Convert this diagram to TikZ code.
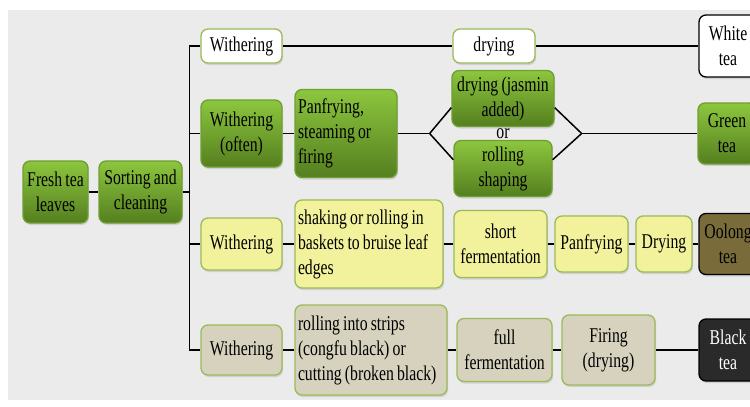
\documentclass[tikz,border=0pt]{standalone}
\usepackage{fontspec}
\setmainfont{Liberation Serif}[FakeStretch=0.75, WordSpace=0.8]
\usepackage{tikz}
\usetikzlibrary{shapes.geometric, arrows, calc, shadows}
\definecolor{bgcolor}{HTML}{EBEBEB}
\definecolor{leaflight}{HTML}{8CC63E}
\definecolor{leafdark}{HTML}{557F1F}
\definecolor{leafedge}{HTML}{9BBB59}
\definecolor{oolongyellow}{HTML}{F2F29C}
\definecolor{blackgray}{HTML}{D6D2BE}
\definecolor{oolongcolor}{HTML}{7A6C3A}
\definecolor{blackcolor}{HTML}{2A2A2A}
\tikzstyle{stage} = [rectangle, rounded corners=7pt, draw=leafedge, line width=1.3pt, align=center, inner sep=3pt, font=\fontsize{21}{25}\selectfont, drop shadow={opacity=0.25, shadow xshift=1pt, shadow yshift=-2pt}]
\tikzstyle{greenstage} = [stage, top color=leaflight, bottom color=leafdark, draw=leaflight!80!black]
\tikzstyle{whitestage} = [stage, fill=white]
\tikzstyle{yellowstage} = [stage, fill=oolongyellow]
\tikzstyle{graystage} = [stage, fill=blackgray]
\tikzstyle{wither} = [minimum width=81pt]
\tikzstyle{product} = [stage, draw=black, minimum width=58pt, minimum height=62pt]
\tikzstyle{link} = [line width=1.5pt, black]

\begin{document}
\begin{tikzpicture}
        \useasboundingbox (0,0) rectangle (750pt,-407pt);
        \fill [bgcolor] (8pt,-10pt) rectangle (750pt,-400pt);

        \node (fresh) [greenstage, minimum width=65pt, minimum height=62pt]
            at (55.5pt,-192pt) {Fresh tea\\leaves};
        \node (sort)
            [greenstage, right of=fresh, node distance=85pt,
             minimum width=83pt, minimum height=62pt]
            {Sorting and\\cleaning};

        % the four withering stages, one under the other
        \node (wwhite) [whitestage, wither, minimum height=34pt]
            at (241.5pt,-46pt) {Withering};
        \node (wgreen)
            [greenstage, wither, below of=wwhite, node distance=87.5pt,
             minimum height=67pt]
            {Withering\\(often)};
        \node (wyellow)
            [yellowstage, wither, below of=wgreen, node distance=110.5pt,
             minimum height=52pt]
            {Withering};
        \node (wgray)
            [graystage, wither, below of=wyellow, node distance=106pt,
             minimum height=50pt]
            {Withering};

        % white tea
        \node (drywhite)
            [whitestage, right of=wwhite, node distance=252.5pt,
             minimum width=82pt, minimum height=34pt]
            {drying};
        \node (whitetea)
            [product, fill=white, right of=drywhite, node distance=234pt]
            {White\\tea};

        % green tea
        \node (panfire)
            [greenstage, right of=wgreen, node distance=104.5pt,
             text width=96pt, align=flush left, minimum height=88pt]
            {Panfrying,\\steaming or\\firing};
        \node (ortext)
            [right of=panfire, node distance=157pt, inner sep=0pt,
             font=\fontsize{21}{25}\selectfont]
            {or};
        \node (jasmin)
            [greenstage, above of=ortext, node distance=35pt,
             minimum width=102pt, minimum height=56pt]
            {drying (jasmin\\added)};
        \node (shaping)
            [greenstage, below of=ortext, node distance=35pt,
             minimum width=98pt, minimum height=56pt]
            {rolling\\shaping};
        \node (greentea)
            [product, top color=leaflight, bottom color=leafdark,
             draw=leaflight!80!black, right of=ortext, node distance=224pt,
             minimum height=61pt]
            {Green\\tea};

        % oolong tea
        \node (bruise)
            [yellowstage, right of=wyellow, node distance=127.5pt,
             text width=142pt, align=flush left, minimum height=88pt]
            {shaking or rolling in\\baskets to bruise leaf\\edges};
        \node (shortferm)
            [yellowstage, right of=bruise, node distance=131.5pt,
             minimum width=93pt, minimum height=67pt]
            {short\\fermentation};
        \node (panyellow)
            [yellowstage, right of=shortferm, node distance=91pt,
             minimum width=73pt, minimum height=56pt]
            {Panfrying};
        \node (dryyellow)
            [yellowstage, right of=panyellow, node distance=72.5pt,
             minimum width=56pt, minimum height=56pt]
            {Drying};
        \node (oolong)
            [product, fill=oolongcolor, right of=dryyellow, node distance=64pt,
             minimum height=61pt]
            {Oolong\\tea};

        % black tea
        \node (strips)
            [graystage, right of=wgray, node distance=129.5pt,
             text width=146pt, align=flush left, minimum height=90pt]
            {rolling into strips\\(congfu black) or\\cutting (broken black)};
        \node (fullferm)
            [graystage, right of=strips, node distance=133.5pt,
             minimum width=95pt, minimum height=63pt]
            {full\\fermentation};
        \node (firing)
            [graystage, right of=fullferm, node distance=104pt,
             minimum width=93pt, minimum height=70pt]
            {Firing\\(drying)};
        \node (blacktea)
            [product, fill=blackcolor, text=white, right of=firing,
             node distance=119.5pt]
            {Black\\tea};

        % lines
        \coordinate (trunk) at ($(sort.east)+(7pt,0)$) ;
        \draw [link] (fresh) -- (sort) ;
        \draw [link] (sort) -- (trunk) ;
        \draw [link] (trunk) |- (wwhite) ;
        \draw [link] (trunk) |- (wgreen) ;
        \draw [link] (trunk) |- (wyellow) ;
        \draw [link] (trunk) |- (wgray) ;

        \draw [link] (wwhite) -- (drywhite) ;
        \draw [link] (drywhite) -- (whitetea) ;

        \coordinate (forkleft) at ($(panfire.east)+(32pt,0)$) ;
        \coordinate (forkright) at ($(jasmin.east |- panfire)+(27pt,0)$) ;
        \draw [link] (wgreen) -- (panfire) ;
        \draw [link] (panfire) -- (forkleft) ;
        \draw [link] (forkleft) -- (jasmin.190) ;
        \draw [link] (forkleft) -- (shaping.170) ;
        \draw [link] (jasmin.350) -- (forkright) ;
        \draw [link] (shaping.10) -- (forkright) ;
        \draw [link] (forkright) -- (greentea) ;

        \draw [link] (wyellow) -- (bruise) ;
        \draw [link] (bruise) -- (shortferm) ;
        \draw [link] (shortferm) -- (panyellow) ;
        \draw [link] (panyellow) -- (dryyellow) ;
        \draw [link] (dryyellow) -- (oolong) ;

        \draw [link] (wgray) -- (strips) ;
        \draw [link] (strips) -- (fullferm) ;
        \draw [link] (fullferm) -- (firing) ;
        \draw [link] (firing) -- (blacktea) ;

    \end{tikzpicture}
\end{document}
